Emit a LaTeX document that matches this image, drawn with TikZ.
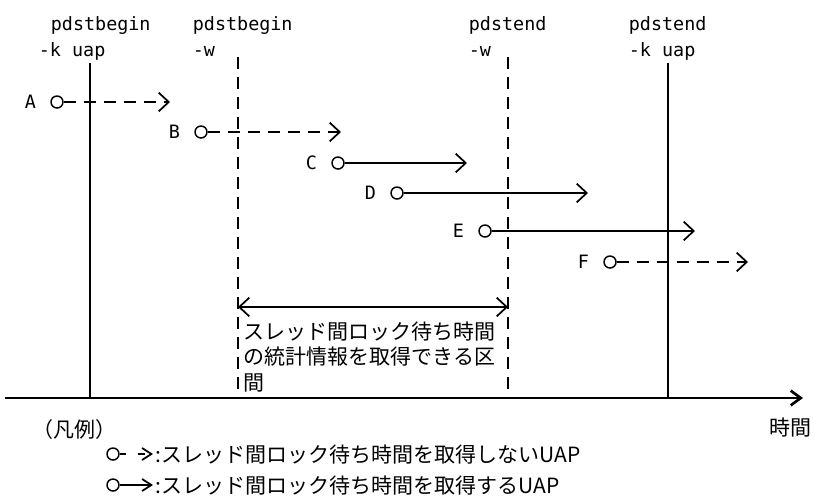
\documentclass[tikz,border=0pt]{standalone}
\usepackage{fontspec}
\setmainfont{DejaVu Sans Mono}
\newfontfamily\jpfont{Noto Sans CJK JP}
\usetikzlibrary{positioning,arrows.meta}

\begin{document}
\begin{tikzpicture}[x=0.75pt,y=-0.75pt,line width=1.3pt,
    uap/.style={circle,draw,fill=white,inner sep=0pt,minimum size=9pt,line width=1.1pt},
    fwd/.style={-{Straight Barb[length=7.5pt,width=14pt]}},
    legfwd/.style={-{Straight Barb[length=7pt,width=9pt]}},
    wait/.style={dash pattern=on 9pt off 6pt},
    cmd/.style={inner sep=0pt,anchor=base west,font=\fontsize{13.8}{16}\selectfont},
    tag/.style={inner sep=0pt,font=\fontsize{13.8}{16}\selectfont},
    jp/.style={inner sep=0pt,font=\jpfont\fontsize{15.75}{19}\selectfont}]
  \useasboundingbox (0,0) rectangle (814,497);

  \coordinate (kb) at (90,63);
  \coordinate (wb) at (238,57);
  \coordinate (we) at (508,57);
  \coordinate (ke) at (668,63);
  \coordinate (ax0) at (5,398);
  \coordinate (ax1) at (803,398);
  \draw[line width=2pt,-{Straight Barb[length=7.5pt,width=11pt]}] (ax0) -- (ax1);
  \draw (kb) -- (kb |- ax0);
  \draw[wait] (wb) -- (wb |- ax0);
  \draw[wait] (we) -- (we |- ax0);
  \draw (ke) -- (ke |- ax0);

  \node[cmd] (kbn) at (50,30) {pdstbegin};
  \node[cmd] (kbo) at (38,56) {-k uap};
  \node[cmd] (wbn) at (192,30) {pdstbegin};
  \node[cmd] (wbo) at (192,56) {-w};
  \node[cmd] (wen) at (468,30) {pdstend};
  \node[cmd] (weo) at (468,56) {-w};
  \node[cmd] (ken) at (628,30) {pdstend};
  \node[cmd] (keo) at (628,56) {-k uap};

  \node[uap] (ua) at (57,102) {};
  \node[uap] (ub) at (201,132) {};
  \node[uap] (uc) at (338,163) {};
  \node[uap] (ud) at (397,193) {};
  \node[uap] (ue) at (485,231) {};
  \node[uap] (uf) at (610,262) {};
  \node[tag,left=10pt of ua] (la) {A};
  \node[tag,left=10pt of ub] (lb) {B};
  \node[tag,left=10pt of uc] (lc) {C};
  \node[tag,left=10pt of ud] (ld) {D};
  \node[tag,left=10pt of ue] (le) {E};
  \node[tag,left=10pt of uf] (lf) {F};
  \coordinate (ta) at (170,102);
  \coordinate (tb) at (341,132);
  \coordinate (tc) at (467,163);
  \coordinate (td) at (588,193);
  \coordinate (te) at (695,231);
  \coordinate (tf) at (748,262);
  \draw[wait,fwd] (ua) -- (ta);
  \draw[wait,fwd] (ub) -- (tb);
  \draw[fwd] (uc) -- (tc);
  \draw[fwd] (ud) -- (td);
  \draw[fwd] (ue) -- (te);
  \draw[wait,fwd] (uf) -- (tf);

  \coordinate (s0) at (238,307);
  \coordinate (s1) at (508,307);
  \draw[{Straight Barb[length=7.5pt,width=14pt]}-{Straight Barb[length=7.5pt,width=14pt]}] (s0) -- (s1);
  \node[jp,anchor=north west,align=left] (span) at (243,321)
    {スレッド間ロック待ち時間\\の統計情報を取得できる区\\間};

  \node[jp,anchor=west] (legend) at (32,430) {（凡例）};
  \node[jp,anchor=east] (time) at (812,428) {時間};

  \node[uap] (lu1) at (113,454) {};
  \node[uap] (lu2) at (113,485) {};
  \coordinate (lt1) at (153,454);
  \coordinate (lt2) at (153,485);
  \draw[dash pattern=on 5pt off 9pt,legfwd] (lu1) -- (lt1);
  \draw[legfwd] (lu2) -- (lt2);
  \node[jp,anchor=west] (lx1) at (155,455) {:スレッド間ロック待ち時間を取得しないUAP};
  \node[jp,anchor=west] (lx2) at (155,486) {:スレッド間ロック待ち時間を取得するUAP};
\end{tikzpicture}
\end{document}
